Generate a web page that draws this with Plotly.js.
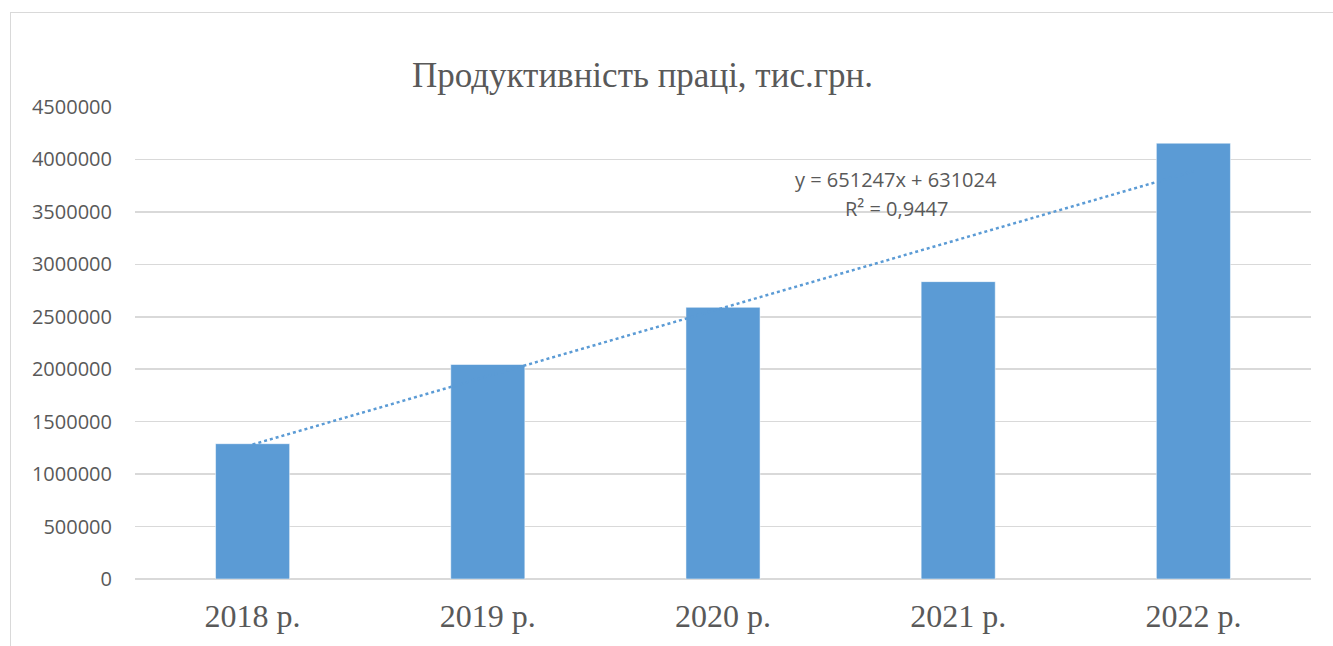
<!DOCTYPE html>
<html>
<head>
<meta charset="utf-8">
<script src="https://cdn.plot.ly/plotly-3.0.1.min.js"></script>
<style>
html,body{margin:0;padding:0;background:#fff;overflow:hidden;}
#frame{position:absolute;left:10px;top:12px;width:1400px;height:700px;border:1.5px solid #d9d9d9;box-sizing:border-box;}
#chart{position:absolute;left:0;top:0;width:1333px;height:646px;}
</style>
</head>
<body>
<div id="frame"></div>
<div id="chart"></div>
<script>
const categories = ["2018 р.", "2019 р.", "2020 р.", "2021 р.", "2022 р."];
const productivity = [1290000, 2045000, 2590000, 2835000, 4155000];
const trendSlope = 651247;
const trendIntercept = 631024;
const trendEquation = "y = 651247x + 631024";
const trendR2 = "R² = 0,9447";
const yTicks = [0, 500000, 1000000, 1500000, 2000000, 2500000, 3000000, 3500000, 4000000, 4500000];

const trendY = categories.map((c, i) => trendSlope * (i + 1) + trendIntercept);

const bars = {
  type: "bar",
  x: categories,
  y: productivity,
  marker: {color: "#5b9bd5", line: {color: "rgba(255,255,255,0.5)", width: 1}},
  hoverinfo: "x+y"
};
const trend = {
  type: "scatter",
  mode: "lines",
  x: categories,
  y: trendY,
  line: {color: "#5b9bd5", width: 2.5, dash: "dot"},
  hoverinfo: "skip"
};

const annFont = {family: "Open Sans, sans-serif", size: 20, color: "#595959"};

const layout = {
  width: 1333,
  height: 646,
  margin: {l: 135, r: 22, t: 107, b: 67},
  paper_bgcolor: "rgba(0,0,0,0)",
  plot_bgcolor: "rgba(0,0,0,0)",
  showlegend: false,
  bargap: 0.685,
  title: {
    text: "Продуктивність праці, тис.грн.",
    font: {family: "Liberation Serif, serif", size: 35, color: "#595959"},
    x: 0.482, xref: "container", xanchor: "center",
    y: 0.885, yref: "container", yanchor: "middle"
  },
  xaxis: {
    type: "category",
    tickfont: {family: "Liberation Serif, serif", size: 32, color: "#595959"},
    showgrid: false,
    showline: false,
    ticks: "",
    ticklabelstandoff: 15
  },
  yaxis: {
    range: [0, 4500000],
    tickvals: yTicks,
    ticktext: yTicks.map(v => String(v)),
    tickfont: {family: "Open Sans, sans-serif", size: 20, color: "#595959"},
    showgrid: true,
    gridcolor: "#d9d9d9",
    gridwidth: 1.5,
    zeroline: true,
    zerolinecolor: "#d9d9d9",
    zerolinewidth: 1.5,
    showline: false,
    ticks: "",
    ticklabelstandoff: 22
  },
  annotations: [
    {
      text: trendEquation,
      x: 896 / 1333, xref: "paper", xanchor: "center",
      y: 3810000, yref: "y", yanchor: "middle",
      showarrow: false,
      font: annFont
    },
    {
      text: trendR2,
      x: 896 / 1333, xref: "paper", xanchor: "center",
      y: 3530000, yref: "y", yanchor: "middle",
      showarrow: false,
      font: annFont
    }
  ]
};
// convert container-pixel x for annotations to paper fraction
layout.annotations.forEach(a => { a.x = (a.x * 1333 - 135) / (1333 - 135 - 22); });

Plotly.newPlot("chart", [bars, trend], layout, {displayModeBar: false, staticPlot: true});
</script>
</body>
</html>
